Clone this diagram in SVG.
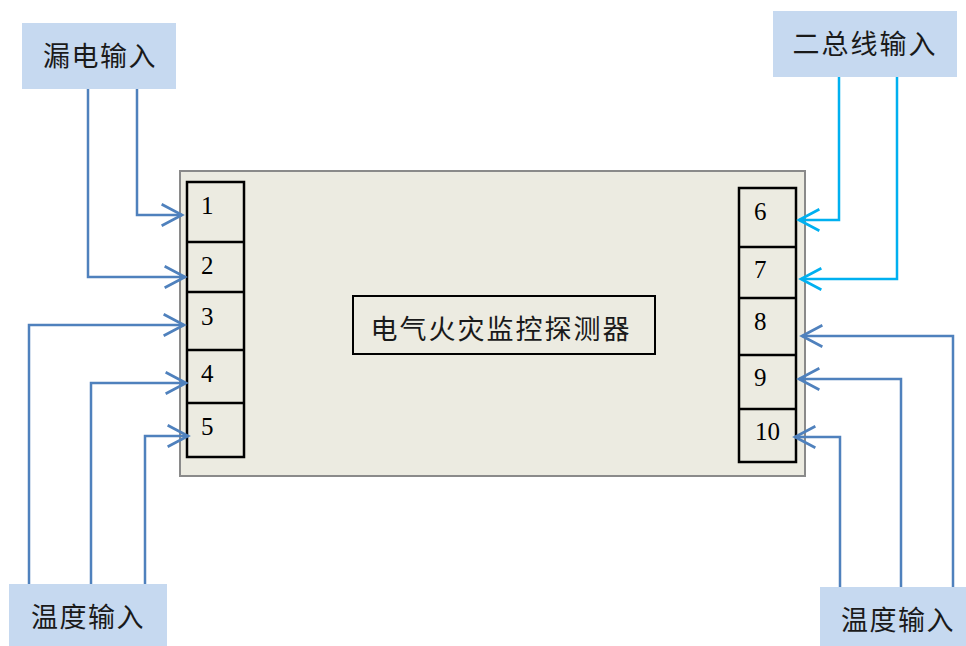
<svg xmlns="http://www.w3.org/2000/svg" width="966" height="646" viewBox="0 0 966 646">
<defs>
<marker id="ab" markerUnits="userSpaceOnUse" markerWidth="30" markerHeight="30" viewBox="-24 -14 28 28" refX="0" refY="0" orient="auto">
<path d="M-19,-10 L0,0 L-19,10" fill="none" stroke="#4f81bd" stroke-width="2.5"/>
</marker>
<marker id="ac" markerUnits="userSpaceOnUse" markerWidth="30" markerHeight="30" viewBox="-24 -14 28 28" refX="0" refY="0" orient="auto">
<path d="M-19,-10 L0,0 L-19,10" fill="none" stroke="#00b0f0" stroke-width="2.5"/>
</marker>
</defs>
<style>
.src{fill:#c6d9f0;stroke:none}
.cn{font-family:"Noto Sans CJK SC","Noto Sans CJK TC",sans-serif;font-size:27px;letter-spacing:1.5px;fill:#1a1a1a;text-anchor:middle}
.num{font-family:"Liberation Serif",serif;font-size:25px;fill:#000}
.term{fill:none;stroke:#000;stroke-width:2.5}
.wb{fill:none;stroke:#4f81bd;stroke-width:2.5;marker-end:url(#ab)}
.wc{fill:none;stroke:#00b0f0;stroke-width:2.5;marker-end:url(#ac)}
</style>
<rect width="966" height="646" fill="#fff"/>
<g id="detector">
<rect x="180" y="171" width="625" height="305" fill="#ecebe1" stroke="#8a8a8a" stroke-width="2"/>
<rect x="353" y="296" width="302" height="58" fill="none" stroke="#000" stroke-width="2"/>
<text class="cn" x="501" y="339" style="letter-spacing:2px">电气火灾监控探测器</text>
</g>
<g id="terminals-left">
<rect class="term" x="187" y="182" width="57" height="275"/>
<line x1="187" y1="242" x2="244" y2="242" stroke="#000" stroke-width="2.5"/>
<line x1="187" y1="292" x2="244" y2="292" stroke="#000" stroke-width="2.5"/>
<line x1="187" y1="350" x2="244" y2="350" stroke="#000" stroke-width="2.5"/>
<line x1="187" y1="403" x2="244" y2="403" stroke="#000" stroke-width="2.5"/>
<text class="num" x="201" y="214">1</text>
<text class="num" x="201" y="274">2</text>
<text class="num" x="201" y="325">3</text>
<text class="num" x="201" y="382">4</text>
<text class="num" x="201" y="435">5</text>
</g>
<g id="terminals-right">
<rect class="term" x="739" y="188" width="57" height="274"/>
<line x1="739" y1="247" x2="796" y2="247" stroke="#000" stroke-width="2.5"/>
<line x1="739" y1="298" x2="796" y2="298" stroke="#000" stroke-width="2.5"/>
<line x1="739" y1="355" x2="796" y2="355" stroke="#000" stroke-width="2.5"/>
<line x1="739" y1="409" x2="796" y2="409" stroke="#000" stroke-width="2.5"/>
<text class="num" x="754" y="220">6</text>
<text class="num" x="754" y="278">7</text>
<text class="num" x="754" y="330">8</text>
<text class="num" x="754" y="386">9</text>
<text class="num" x="755" y="440">10</text>
</g>
<g id="leak-input">
<rect class="src" x="22" y="23" width="154" height="66"/>
<text class="cn" x="100" y="66">漏电输入</text>
</g>
<g id="bus-input">
<rect class="src" x="773" y="11" width="184" height="66"/>
<text class="cn" x="865" y="54" style="letter-spacing:2px">二总线输入</text>
</g>
<g id="temp-input-left">
<rect class="src" x="9" y="584" width="158" height="62"/>
<text class="cn" x="88" y="627">温度输入</text>
</g>
<g id="temp-input-right">
<rect class="src" x="820" y="587" width="146" height="59"/>
<text class="cn" x="898" y="630">温度输入</text>
</g>
<g id="connectors">
<polyline class="wb" points="137,89 137,215 182,215"/>
<polyline class="wb" points="88,89 88,277 185,277"/>
<polyline class="wb" points="29,584 29,325 184,325"/>
<polyline class="wb" points="91,584 91,383 186,383"/>
<polyline class="wb" points="145,584 145,436 188,436"/>
<polyline class="wc" points="839,77 839,220 799,220"/>
<polyline class="wc" points="897,77 897,279 801,279"/>
<polyline class="wb" points="953,587 953,336 802,336"/>
<polyline class="wb" points="901,587 901,379 799,379"/>
<polyline class="wb" points="840,587 840,437 795,437"/>
</g>
</svg>
